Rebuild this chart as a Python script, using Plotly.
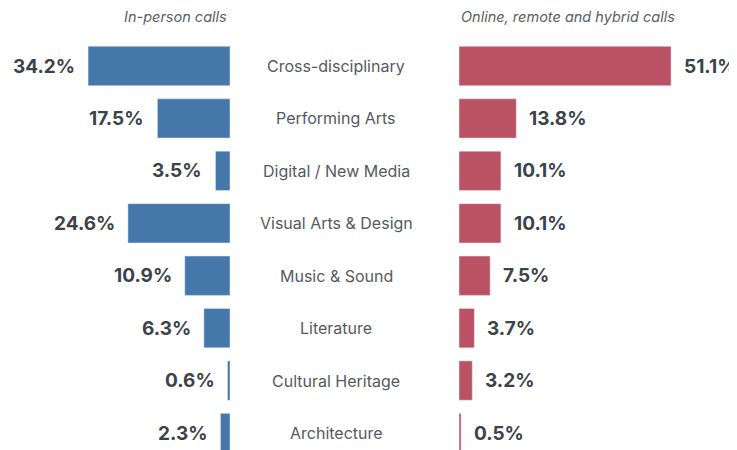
import plotly.graph_objects as go

categories = ["Cross-disciplinary", "Performing Arts", "Digital / New Media",
              "Visual Arts & Design", "Music & Sound", "Literature",
              "Cultural Heritage", "Architecture"]
in_person = [34.2, 17.5, 3.5, 24.6, 10.9, 6.3, 0.6, 2.3]
online = [51.1, 13.8, 10.1, 10.1, 7.5, 3.7, 3.2, 0.5]
title_left = "In-person calls"
title_right = "Online, remote and hybrid calls"

W, H = 737, 450
OFF = 8  # page body margin
BLUE = "#4677aa"
RED = "#ba5263"
VAL_COLOR = "#3b434a"
CAT_COLOR = "#555a5e"
FONT = "Inter, Roboto, sans-serif"

pos = list(range(len(categories)))
px_per = 4.15
left_edge, right_start = 230 - OFF, 459 - OFF

fig = go.Figure()
fig.add_trace(go.Bar(x=in_person, y=pos, orientation="h", marker_color=BLUE,
                     width=0.75, xaxis="x", yaxis="y", hoverinfo="skip"))
fig.add_trace(go.Bar(x=online, y=pos, orientation="h", marker_color=RED,
                     width=0.75, xaxis="x2", yaxis="y", hoverinfo="skip"))

ann = []
for i, (c, a, b) in enumerate(zip(categories, in_person, online)):
    ann.append(dict(x=a, y=i, xref="x", yref="y", text=f"{a}%", showarrow=False,
                    xanchor="right", xshift=-11,
                    font=dict(family=FONT, size=19, color=VAL_COLOR, weight="bold")))
    ann.append(dict(x=b, y=i, xref="x2", yref="y", text=f"{b}%", showarrow=False,
                    xanchor="left", xshift=11,
                    font=dict(family=FONT, size=19, color=VAL_COLOR, weight="bold")))
    ann.append(dict(x=(336 - OFF) / W, y=i, xref="paper", yref="y",
                    text=c, showarrow=False, xanchor="center",
                    font=dict(family=FONT, size=16, color=CAT_COLOR)))

ann.append(dict(x=(left_edge - 1) / W, y=1 - (16 - OFF) / H, xref="paper", yref="paper",
                text=f"<i>{title_left}</i>", showarrow=False, xanchor="right",
                yanchor="middle", font=dict(family=FONT, size=14.5, color="#5a5f63")))
ann.append(dict(x=right_start / W, y=1 - (16 - OFF) / H, xref="paper", yref="paper",
                text=f"<i>{title_right}</i>", showarrow=False, xanchor="left",
                yanchor="middle", font=dict(family=FONT, size=14.5, color="#5a5f63")))

row_h = 52.43
first = 66 - OFF
fig.update_layout(
    width=W, height=H, margin=dict(l=0, r=0, t=0, b=0),
    paper_bgcolor="white", plot_bgcolor="white", showlegend=False,
    annotations=ann,
    xaxis=dict(domain=[0, left_edge / W], range=[left_edge / px_per, 0],
               visible=False, fixedrange=True),
    xaxis2=dict(domain=[right_start / W, 1], range=[0, (W - right_start) / px_per],
                visible=False, fixedrange=True),
    yaxis=dict(range=[(H - first) / row_h, -first / row_h], visible=False,
               fixedrange=True),
)
fig.write_html("out.html")
